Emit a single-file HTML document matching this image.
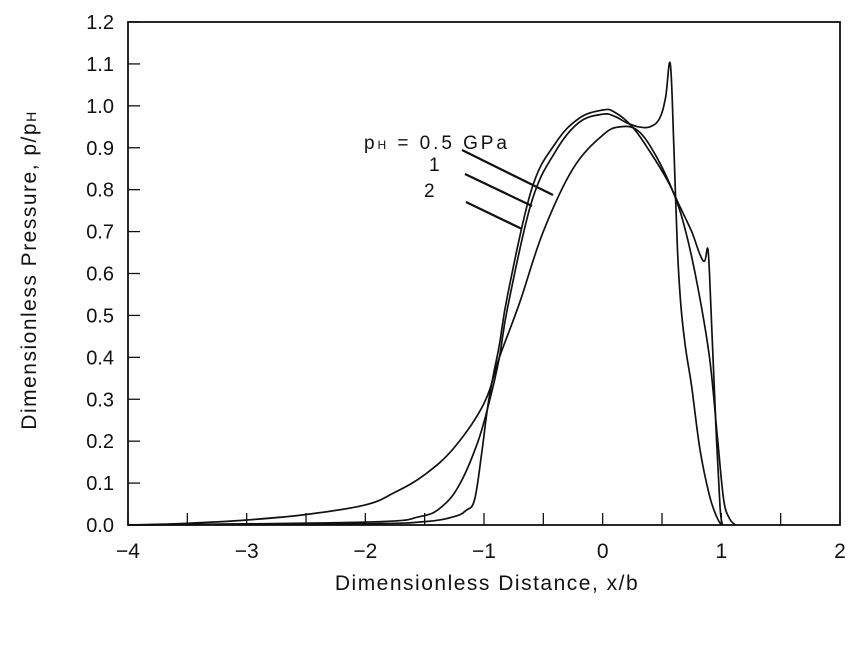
<!DOCTYPE html>
<html><head><meta charset="utf-8"><style>
body{margin:0;background:#fff}
svg{display:block}
text{font-family:"Liberation Sans",sans-serif;fill:#111}
</style></head><body>
<svg id="chart" width="856" height="670" xmlns="http://www.w3.org/2000/svg"></svg>
<script>
const xTicks=[-4,-3,-2,-1,0,1,2];
const yTicks=[0,0.1,0.2,0.3,0.4,0.5,0.6,0.7,0.8,0.9,1.0,1.1,1.2];
const xC=[-4,-3.5,-3,-2.5,-2,-1.75,-1.5,-1.25,-1,-0.87,-0.7,-0.5,-0.25,0,0.15,0.3,0.45,0.6,0.7,0.8,0.9,0.97,1.02,1.07,1.12];
const yC=[0,0.004,0.012,0.025,0.048,0.078,0.12,0.185,0.29,0.40,0.53,0.7,0.85,0.93,0.95,0.94,0.88,0.79,0.7,0.57,0.4,0.2,0.06,0.015,0];
const xA=[-4,-2,-1.5,-1.25,-1.15,-1.08,-1.02,-0.97,-0.92,-0.87,-0.8,-0.6,-0.4,-0.2,0,0.1,0.25,0.4,0.55,0.65,0.75,0.82,0.86,0.885,0.9,0.93,0.96,0.99,1.01];
const yA=[0,0.003,0.008,0.02,0.035,0.06,0.17,0.28,0.36,0.43,0.55,0.8,0.91,0.97,0.99,0.985,0.95,0.89,0.82,0.76,0.7,0.645,0.63,0.66,0.6,0.4,0.2,0.04,0];
const xB=[-4,-2,-1.54,-1.35,-1.2,-1.05,-0.95,-0.87,-0.8,-0.6,-0.4,-0.2,0,0.1,0.2,0.3,0.4,0.48,0.53,0.57,0.6,0.63,0.66,0.7,0.75,0.82,0.9,0.96,1.0];
const yB=[0,0.007,0.02,0.045,0.1,0.2,0.3,0.4,0.52,0.77,0.89,0.96,0.98,0.975,0.96,0.95,0.95,0.97,1.02,1.1,0.9,0.66,0.52,0.42,0.33,0.18,0.07,0.02,0];
const L=128,R=840,T=22,B=525;
const sx=v=>L+(v+4)/6*(R-L);
const sy=v=>B-v/1.2*(B-T);
const svg=document.getElementById('chart');
const NS='http://www.w3.org/2000/svg';
function el(t,a,p){const e=document.createElementNS(NS,t);for(const k in a)e.setAttribute(k,a[k]);(p||svg).appendChild(e);return e;}
function smooth(pts){
 let d='M'+pts[0][0].toFixed(1)+','+pts[0][1].toFixed(1);
 for(let i=0;i<pts.length-1;i++){
  const p0=pts[Math.max(0,i-1)],p1=pts[i],p2=pts[i+1],p3=pts[Math.min(pts.length-1,i+2)];
  const k=0.18;
  const c1=[p1[0]+(p2[0]-p0[0])*k,p1[1]+(p2[1]-p0[1])*k];
  const c2=[p2[0]-(p3[0]-p1[0])*k,p2[1]-(p3[1]-p1[1])*k];
  d+='C'+c1.map(v=>v.toFixed(1)).join(',')+' '+c2.map(v=>v.toFixed(1)).join(',')+' '+p2[0].toFixed(1)+','+p2[1].toFixed(1);
 }
 return d;
}
const frame=el('rect',{x:L,y:T,width:R-L,height:B-T,fill:'none',stroke:'#111','stroke-width':1.8});


for(let v=-4;v<=2.001;v+=0.5){
 const t=el('line',{x1:sx(v),x2:sx(v),y1:B,y2:B-12,stroke:'#111','stroke-width':1.3});
 
 
}
xTicks.forEach(v=>{
 const t=el('text',{x:sx(v),y:B+33,'font-size':21,'text-anchor':'middle'});
 t.textContent=v<0?'\u2212'+(-v):String(v);
 
 
});
yTicks.forEach(v=>{
 const t=el('line',{x1:L,x2:L+12,y1:sy(v),y2:sy(v),stroke:'#111','stroke-width':1.3});
 
 
 const l=el('text',{x:L-14,y:sy(v)+7,'font-size':20,'text-anchor':'end'});
 l.textContent=v.toFixed(1);
 
 
});
[[xA,yA,'curve-0-5-gpa'],[xB,yB,'curve-1-gpa'],[xC,yC,'curve-2-gpa']].forEach(([xs,ys,n])=>{
 const pts=xs.map((x,i)=>[sx(x),sy(ys[i])]);
 const p=el('path',{d:smooth(pts),fill:'none',stroke:'#111','stroke-width':1.7,'stroke-linejoin':'round'});
 
 
});
[[462,150,553,195],[465,174,532,206],[466,202,522,229]].forEach(a=>{
 const l=el('line',{x1:a[0],y1:a[1],x2:a[2],y2:a[3],stroke:'#111','stroke-width':2.2});
 
 
});
const lab=el('text',{x:364,y:149,'font-size':19,textLength:143,lengthAdjust:'spacing'});
lab.innerHTML='p<tspan font-size="12">H</tspan> = 0.5 GPa';


const l1=el('text',{x:429,y:171,'font-size':19});l1.textContent='1';


const l2=el('text',{x:424,y:197,'font-size':19});l2.textContent='2';


const xt=el('text',{x:487,y:590,'font-size':21,'text-anchor':'middle','letter-spacing':1.5});
xt.textContent='Dimensionless Distance, x/b';


const yt=el('text',{x:0,y:0,'font-size':21,'text-anchor':'middle','letter-spacing':1.5,transform:'translate(36,270) rotate(-90)'});
yt.innerHTML='Dimensionless Pressure, p/p<tspan font-size="14">H</tspan>';


</script>
</body></html>
